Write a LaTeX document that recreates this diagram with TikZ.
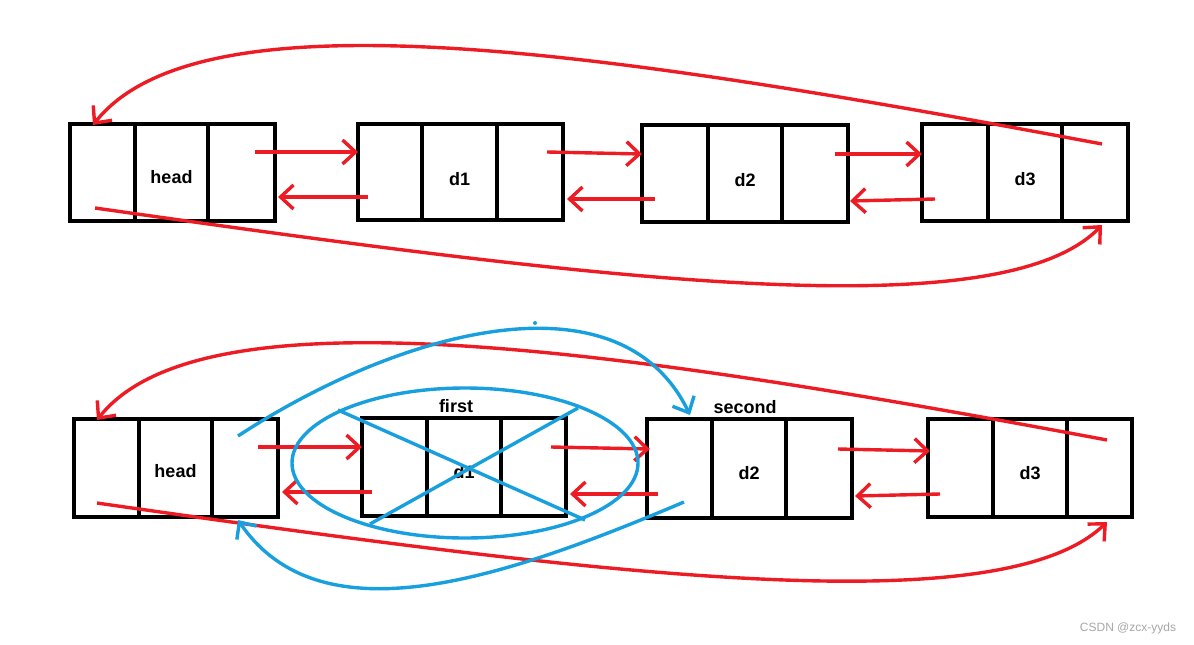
\documentclass[tikz,border=0pt]{standalone}
\usepackage{fontspec}
\setmainfont{Liberation Sans}
\usetikzlibrary{arrows.meta}
\definecolor{pred}{RGB}{237,28,36}
\definecolor{pblue}{RGB}{24,160,222}
\begin{document}
\begin{tikzpicture}[x=1pt,y=-1pt,
 cell/.style={draw,line width=4pt,inner sep=0pt},
 lbl/.style={font=\bfseries\fontsize{18}{18}\selectfont},
 red/.style={draw=pred,line width=3.4pt,-{Straight Barb[length=13pt,width=24pt]}},
 blue/.style={draw=pblue,line width=3.4pt}]
\useasboundingbox (0,0) rectangle (1194,645);
\foreach \n/\a/\b/\c/\d/\ya/\yb in {th/70/135/208/275/124/221, t1/358/422/497/563/124/220, t2/642/708/782/848/125/222, t3/922/988/1062/1128/124/221,
 bh/74/139/212/278/419/517, b1/362/427/501/566/418/516, b2/647/712/786/852/419/518, b3/928/993/1067/1132/419/517}{
 \node[cell,minimum width={(\b-\a)*1pt},minimum height={(\yb-\ya)*1pt}] (\n L) at ({(\a+\b)/2},{(\ya+\yb)/2}) {};
 \node[cell,minimum width={(\c-\b)*1pt},minimum height={(\yb-\ya)*1pt}] (\n M) at ({(\b+\c)/2},{(\ya+\yb)/2}) {};
 \node[cell,minimum width={(\d-\c)*1pt},minimum height={(\yb-\ya)*1pt}] (\n R) at ({(\c+\d)/2},{(\ya+\yb)/2}) {};
}
\node[lbl,yshift=-5pt] at (thM) {head}; \node[lbl,yshift=-7pt] at (t1M) {d1}; \node[lbl,yshift=-7pt] at (t2M) {d2}; \node[lbl,yshift=-7pt] at (t3M) {d3};
\node[lbl,yshift=-3pt] at (bhM) {head}; \node[lbl,yshift=-5pt] at (b1M) {d1}; \node[lbl,yshift=-5pt] at (b2M) {d2}; \node[lbl,yshift=-5pt] at (b3M) {d3};
\node[lbl] (first) at (456,406) {first};
\node[lbl] (second) at (745,407) {second};
% top arrows
\draw[red] (255,152) -- (358,152);
\draw[red] (368,197) -- (278,197);
\draw[red] (547,152) -- (642,154);
\draw[red] (655,199) -- (567,199);
\draw[red] (835,154) -- (922,154);
\draw[red] (935,199) -- (850,201);
\draw[red] (1102,144) .. controls (600,50) and (200,-10) .. (93,125);
\draw[red] (95,208) .. controls (600,280) and (1000,330) .. (1102,225);
% bottom arrows
\draw[red] (258,447) -- (362,447);
\draw[red] (372,492) -- (282,492);
\draw[red] (551,447) -- (650,449);
\draw[red] (658,494) -- (570,494);
\draw[red] (838,449) -- (930,451);
\draw[red] (940,494) -- (855,496);
\draw[red] (1107,440) .. controls (600,345) and (200,290) .. (97,420);
\draw[red] (97,503) .. controls (600,575) and (1000,625) .. (1107,522);
% blue
\draw[blue] (465,463) ellipse (173 and 75);
\draw[blue] (338,410) -- (585,520);
\draw[blue] (370,524) -- (578,408);
\draw[blue,-{Straight Barb[length=13pt,width=24pt]}] (238,436) .. controls (400,330) and (620,270) .. (690,415);
\draw[blue,-{Straight Barb[length=13pt,width=24pt]}] (684,502) .. controls (500,580) and (320,640) .. (238,520);
\fill[pblue] (535,323) circle (2);
\node[text=gray!70,font=\fontsize{12}{12}\selectfont] (wm) at (1128,628) {CSDN @zcx-yyds};
\end{tikzpicture}
\end{document}
